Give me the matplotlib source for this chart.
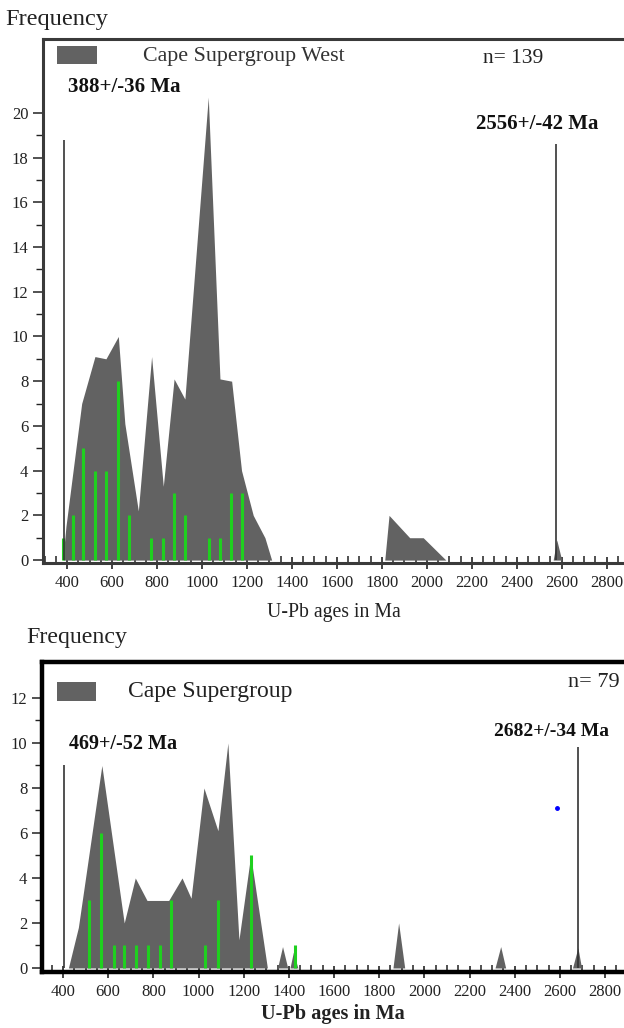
import matplotlib
matplotlib.use("Agg")
import matplotlib.pyplot as plt
from matplotlib.ticker import MultipleLocator, FixedLocator

plt.rcParams['font.family'] = ['Liberation Serif', 'DejaVu Serif']

# ---------------- data: top panel (Cape Supergroup West) ----------------
west_prob_age = [381, 395, 465, 524, 573, 628, 657, 717, 776, 828, 876, 924,
                 1028, 1080, 1132, 1176, 1228, 1280, 1310,
                 1813, 1832, 1924, 1984, 2085,
                 2562, 2578, 2600]
west_prob_freq = [0, 1.5, 7.0, 9.1, 9.0, 10.0, 6.1, 2.2, 9.1, 3.3, 8.1, 7.2,
                  20.7, 8.1, 8.0, 4.0, 2.0, 1.0, 0,
                  0, 2.0, 1.0, 1.0, 0,
                  0, 0.9, 0]
west_hist_age = [380, 425, 470, 525, 575, 625, 675, 775, 825, 875, 925,
                 1030, 1080, 1130, 1180]
west_hist_count = [1, 2, 5, 4, 4, 8, 2, 1, 1, 3, 2, 1, 1, 3, 3]
west_peaks = [388, 2575]
west_peak_heights = [18.8, 18.6]
west_peak_labels = ["388+/-36 Ma", "2556+/-42 Ma"]
west_name = "Cape Supergroup West"
west_n = "n= 139"

# ---------------- data: bottom panel (Cape Supergroup) ----------------
cape_prob_age = [424, 468, 572, 671, 720, 772, 868, 927, 967, 1024, 1086,
                 1130, 1179, 1231, 1305,
                 1350, 1372, 1395,
                 1405, 1420, 1440,
                 1861, 1886, 1913,
                 2313, 2338, 2360,
                 2656, 2680, 2696]
cape_prob_freq = [0, 1.8, 9.0, 2.0, 4.0, 3.0, 3.0, 4.0, 3.1, 8.0, 6.1,
                  10.0, 1.25, 5.0, 0,
                  0, 0.95, 0,
                  0, 0.7, 0,
                  0, 2.0, 0,
                  0, 0.95, 0,
                  0, 0.9, 0]
cape_hist_age = [517, 569, 624, 672, 723, 775, 828, 879, 1027, 1086, 1234, 1427]
cape_hist_count = [3, 6, 1, 1, 1, 1, 1, 3, 1, 3, 5, 1]
cape_peaks = [404, 2680]
cape_peak_heights = [9.0, 9.8]
cape_peak_labels = ["469+/-52 Ma", "2682+/-34 Ma"]
cape_name = "Cape Supergroup"
cape_n = "n= 79"
cape_marker = (2587, 7.1)

xticks = [400, 600, 800, 1000, 1200, 1400, 1600, 1800, 2000, 2200, 2400, 2600, 2800]

GREY = "#626262"
GREEN = "#1fd01f"

W, H = 624, 1028
fig = plt.figure(figsize=(W / 100, H / 100), dpi=100)


def px_axes(left, top, right, bottom):
    return fig.add_axes([left / W, 1 - bottom / H, (right - left) / W, (bottom - top) / H])


def style(ax, xlim, ylim, ymax_tick, lw, color, label_bold, label_size, labelpad):
    ax.set_xlim(*xlim)
    ax.set_ylim(*ylim)
    for s in ["top", "left", "bottom"]:
        ax.spines[s].set_linewidth(lw)
        ax.spines[s].set_color(color)
    ax.spines["right"].set_visible(False)
    ax.set_xticks(xticks)
    ax.set_xticklabels([str(t) for t in xticks])
    ax.xaxis.set_minor_locator(MultipleLocator(50))
    ax.set_yticks(list(range(0, ymax_tick + 1, 2)))
    ax.yaxis.set_minor_locator(FixedLocator(list(range(1, ymax_tick, 2))))
    ax.tick_params(axis="x", which="major", direction="inout", length=9, width=1.2,
                   labelsize=12, colors="#222222", pad=4)
    ax.tick_params(axis="x", which="minor", direction="in", length=5, width=1.1,
                   colors="#222222")
    ax.tick_params(axis="y", which="major", direction="out", length=7, width=1.1,
                   labelsize=12, colors="#222222", pad=3.5)
    ax.tick_params(axis="y", which="minor", direction="out", length=5, width=1.0,
                   colors="#222222")
    ax.set_xlabel("U-Pb ages in Ma", fontsize=label_size, labelpad=labelpad,
                  fontweight="bold" if label_bold else "normal", color="#222222")


# ---------------- top panel ----------------
ax1 = px_axes(43, 39, 624, 563)
ax1.fill_between(west_prob_age, west_prob_freq, 0, color=GREY, lw=0, zorder=2)
ax1.vlines(west_hist_age, 0, west_hist_count, color=GREEN, lw=2.2, zorder=3)
ax1.vlines(west_peaks, 0, west_peak_heights, color="#333333", lw=1.2, zorder=3)
style(ax1, (293, 2877), (-0.13, 23.3), 20, 2.2, "#3a3a3a", False, 14.2, 9)
ax1.add_patch(plt.Rectangle((0.024, 0.952), 0.069, 0.034, transform=ax1.transAxes,
                            color=GREY, lw=0))
ax1.text(0.172, 0.966, west_name, transform=ax1.transAxes, fontsize=15.8,
         va="center", ha="left", color="#333333")
ax1.text(0.757, 0.963, west_n, transform=ax1.transAxes, fontsize=15.5,
         va="center", ha="left", color="#222222")
ax1.text(0.043, 0.908, west_peak_labels[0], transform=ax1.transAxes, fontsize=15,
         va="center", ha="left", fontweight="bold", color="#111111")
ax1.text(2493, 19.5, west_peak_labels[1], fontsize=15, va="center", ha="center",
         fontweight="bold", color="#111111")
fig.text(5 / W, 1 - 20 / H, "Frequency", fontsize=17.6, va="center", ha="left",
         color="#222222")

# ---------------- bottom panel ----------------
ax2 = px_axes(42, 662, 624, 972)
ax2.fill_between(cape_prob_age, cape_prob_freq, 0, color=GREY, lw=0, zorder=2)
ax2.vlines(cape_hist_age, 0, cape_hist_count, color=GREEN, lw=2.2, zorder=3)
ax2.vlines(cape_peaks, 0, cape_peak_heights, color="#333333", lw=1.2, zorder=3)
ax2.plot([cape_marker[0]], [cape_marker[1]], marker="o", ms=2.5, color="blue",
         zorder=4, ls="none")
style(ax2, (307, 2884), (-0.18, 13.6), 12, 3.2, "black", True, 14.6, 3)
ax2.add_patch(plt.Rectangle((0.026, 0.875), 0.067, 0.062, transform=ax2.transAxes,
                            color=GREY, lw=0))
ax2.text(0.148, 0.906, cape_name, transform=ax2.transAxes, fontsize=17,
         va="center", ha="left", color="#222222")
ax2.text(0.993, 0.935, cape_n, transform=ax2.transAxes, fontsize=16,
         va="center", ha="right", color="#222222")
ax2.text(0.046, 0.735, cape_peak_labels[0], transform=ax2.transAxes, fontsize=14.5,
         va="center", ha="left", fontweight="bold", color="#111111")
ax2.text(2564, 10.5, cape_peak_labels[1], fontsize=14, va="center", ha="center",
         fontweight="bold", color="#111111")
fig.text(26 / W, 1 - 638 / H, "Frequency", fontsize=17.2, va="center", ha="left",
         color="#222222")

fig.savefig("out.png", dpi=100)
